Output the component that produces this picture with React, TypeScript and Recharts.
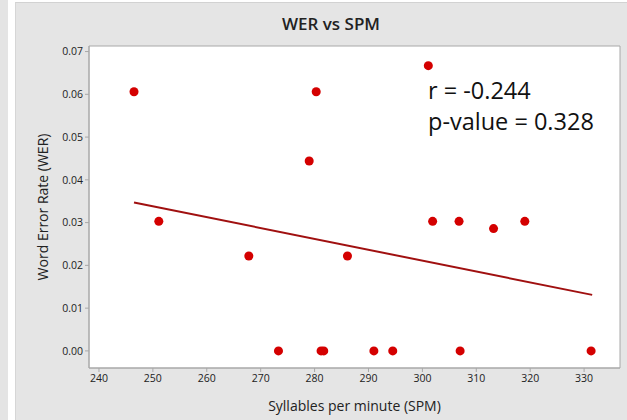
import { CartesianGrid, ReferenceArea, Scatter, ScatterChart, XAxis, YAxis, ZAxis } from "recharts";

// syllables per minute and word error rate, one entry per speaker
const spm = [246.5, 251.1, 267.8, 273.3, 279.0, 280.3, 281.2, 281.7, 286.1, 291.0, 294.5, 301.1, 301.9, 306.8, 307.0, 313.2, 319.0, 331.3];
const wer = [0.0606, 0.0303, 0.0222, 0, 0.0444, 0.0606, 0, 0, 0.0222, 0, 0, 0.0667, 0.0303, 0.0303, 0, 0.0286, 0.0303, 0];

// fitted regression line ends
const fitX = [246.5, 331.5];
const fitY = [0.0347, 0.0131];

const xTicks = [240, 250, 260, 270, 280, 290, 300, 310, 320, 330];
const yTicks = [0, 0.01, 0.02, 0.03, 0.04, 0.05, 0.06, 0.07];
const xDomain: [number, number] = [238.15, 336.66];
const yDomain: [number, number] = [-0.004, 0.0713];

const points = spm.map((x, i) => ({ x, y: wer[i] }));
const fit = fitX.map((x, i) => ({ x, y: fitY[i] }));

const font = "'Open Sans', 'Noto Sans', sans-serif";
const tick = { fontSize: 10.5, fill: "#222", fontFamily: font };

export default function App() {
  return (
    <div style={{ position: "absolute", left: 0, top: 0, width: 627, height: 420, background: "#fff", overflow: "hidden", fontFamily: font }}>
      <div style={{ position: "absolute", left: 0, top: 0, width: 8, height: 420, background: "#e4e4e4" }} />
      <div style={{ position: "absolute", left: 15, top: 2, width: 612, height: 418, background: "#e5e5e5", borderTop: "1px solid #d2d2d2", borderLeft: "1px solid #d6d6d6" }} />
      <div style={{ position: "absolute", left: 231, top: 12, width: 200, textAlign: "center", fontSize: 17, fontWeight: 600, color: "#222" }}>
        WER vs SPM
      </div>
      <div style={{ position: "absolute", left: 0, top: 0 }}>
        <ScatterChart width={627} height={420} margin={{ top: 46, right: 7, bottom: 22, left: 29 }}>
          <CartesianGrid horizontal={false} vertical={false} fill="#fff" />
          <ReferenceArea x1={xDomain[0]} x2={xDomain[1]} y1={yDomain[0]} y2={yDomain[1]} fill="none" stroke="#a8a8a8" strokeWidth={1} ifOverflow="visible" />
          <XAxis
            type="number"
            dataKey="x"
            domain={xDomain}
            ticks={xTicks}
            allowDataOverflow
            height={30}
            tick={tick}
            tickSize={4}
            tickMargin={3}
            stroke="#a8a8a8"
            label={{ value: "Syllables per minute (SPM)", position: "bottom", offset: 3, style: { fontSize: 14, fill: "#222", fontFamily: font } }}
          />
          <YAxis
            type="number"
            dataKey="y"
            domain={yDomain}
            ticks={yTicks}
            allowDataOverflow
            width={60}
            tick={tick}
            tickSize={4}
            tickMargin={2}
            tickFormatter={(v: number) => v.toFixed(2)}
            stroke="#a8a8a8"
            label={{ value: "Word Error Rate (WER)", angle: -90, position: "insideLeft", offset: 14, style: { textAnchor: "middle", fontSize: 14, fill: "#222", fontFamily: font } }}
          />
          <ZAxis range={[48, 48]} />
          <Scatter
            data={fit}
            line={{ stroke: "#a01010", strokeWidth: 2 }}
            shape={() => <g />}
            isAnimationActive={false}
          />
          <Scatter data={points} fill="#d40000" shape="circle" isAnimationActive={false} />
        </ScatterChart>
      </div>
      <div style={{ position: "absolute", left: 428, top: 75, fontSize: 23.5, lineHeight: "31px", color: "#111" }}>
        <div>r = -0.244</div>
        <div>p-value = 0.328</div>
      </div>
    </div>
  );
}
